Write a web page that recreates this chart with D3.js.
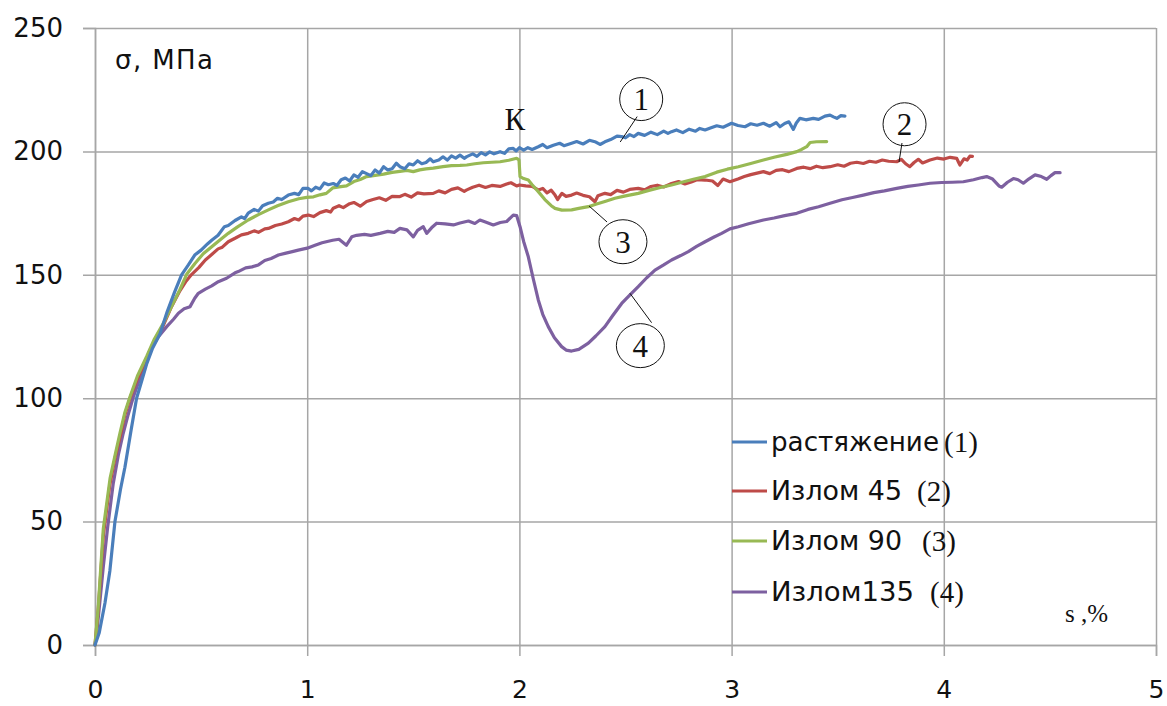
<!DOCTYPE html>
<html>
<head>
<meta charset="utf-8">
<script src="https://cdn.jsdelivr.net/npm/d3@7"></script>
<style>
  body { margin: 0; background: #fff; }
  svg { display: block; }
</style>
</head>
<body>
<svg id="chart" width="1167" height="706"></svg>
<script>
// Stress–strain curves: tension and bending at 45°, 90°, 135° (kink at point K)
const xTicks = [0, 1, 2, 3, 4, 5];
const yTicks = [0, 50, 100, 150, 200, 250];
const seriesNames = ["растяжение", "Излом 45", "Излом 90", "Излом135"];
const seriesTags = ["(1)", "(2)", "(3)", "(4)"];

// [s, %; σ, MPa]
const tension = [
  [0,0],[0.02,5],[0.047,17],[0.07,30],[0.094,50],[0.12,63],[0.141,72],[0.17,87],[0.196,100],
  [0.22,107],[0.244,114],[0.27,120],[0.306,126],[0.34,135],[0.375,143],[0.408,150],[0.44,154],
  [0.47,158],[0.5,160],[0.53,162.5],[0.55,164],[0.58,166],[0.61,169.5],[0.628,170],[0.66,172],
  [0.69,173.5],[0.705,172.8],[0.722,175],[0.75,176.5],[0.77,175.8],[0.79,178],[0.817,179],
  [0.84,179.5],[0.86,181],[0.88,180.5],[0.911,182.3],[0.94,183],[0.96,182.5],[0.98,185],
  [1.005,185],[1.02,184],[1.04,185.5],[1.06,184.8],[1.08,187.2],[1.1,186.5],[1.123,187],
  [1.14,186.2],[1.16,188.5],[1.18,189.2],[1.2,188],[1.22,190.5],[1.24,189.5],[1.26,191.8],
  [1.28,191],[1.3,190.2],[1.32,192.5],[1.34,191.2],[1.36,193.8],[1.38,192.5],[1.4,193],
  [1.42,195.2],[1.437,193.8],[1.46,193],[1.48,195],[1.5,194.5],[1.52,196.2],[1.54,195],
  [1.56,195.5],[1.58,197],[1.594,195.8],[1.62,196.5],[1.64,197.8],[1.66,196.5],[1.68,198.2],
  [1.7,197.3],[1.72,198.5],[1.74,197.2],[1.752,197.9],[1.78,199],[1.8,198],[1.82,199.5],
  [1.84,198.6],[1.86,199.8],[1.88,199],[1.909,199.9],[1.93,199.2],[1.95,201],[1.971,201.2],
  [1.985,200.2],[2.0,201.5],[2.02,200.5],[2.04,201.5],[2.06,200.8],[2.089,201.9],[2.11,202.8],
  [2.13,201.5],[2.16,202.5],[2.19,203.3],[2.21,202.3],[2.246,203.3],[2.27,204],[2.3,203],
  [2.33,204.5],[2.36,203.8],[2.38,202.8],[2.403,203.9],[2.43,204.8],[2.46,206.2],[2.482,206],
  [2.5,205.5],[2.52,206.8],[2.54,206],[2.56,207.3],[2.59,206.5],[2.62,207.8],[2.65,206.8],
  [2.68,208.2],[2.7,207.3],[2.717,208],[2.74,208.7],[2.77,207.6],[2.8,209],[2.83,208.2],
  [2.85,209.3],[2.875,208.7],[2.9,209.5],[2.93,210.4],[2.96,209.8],[3.0,211.4],[3.03,210.5],
  [3.063,210],[3.09,211.2],[3.12,210.6],[3.15,211.4],[3.18,210.2],[3.21,211.7],[3.228,210],
  [3.25,211.3],[3.27,212],[3.291,208.9],[3.305,211.5],[3.322,213.4],[3.35,212.8],[3.385,213.4],
  [3.41,213],[3.44,214.3],[3.464,214.7],[3.48,214],[3.496,213.4],[3.515,214.5],[3.534,214.3]
];

const bend45 = [
  [0,0],[0.015,14],[0.04,45],[0.07,65],[0.095,76],[0.12,85],[0.14,93],[0.165,100],[0.2,108],
  [0.244,116],[0.28,123],[0.322,129.5],[0.36,137],[0.4,143.5],[0.43,147.5],[0.456,150.2],
  [0.49,153],[0.52,156],[0.55,158.2],[0.58,160.5],[0.6,161.2],[0.628,163.4],[0.66,164.8],
  [0.69,166.2],[0.722,166.8],[0.75,167.8],[0.77,167.2],[0.8,168.6],[0.817,168.8],[0.85,170],
  [0.88,170.6],[0.911,171.5],[0.94,172.8],[0.96,172.2],[0.98,173.8],[1.005,174.2],[1.03,173.6],
  [1.06,175.2],[1.09,176],[1.11,175.4],[1.123,177],[1.15,178],[1.17,177.2],[1.2,178.8],
  [1.22,179.3],[1.25,177.8],[1.28,179.7],[1.31,180.5],[1.34,181.2],[1.37,180.2],[1.4,181.8],
  [1.437,181.7],[1.46,182.6],[1.49,181.5],[1.52,183.2],[1.55,182.8],[1.594,183],[1.62,184],
  [1.65,183.2],[1.68,184.6],[1.71,185.2],[1.74,183.8],[1.752,184.4],[1.78,185.5],[1.81,186.3],
  [1.84,185.4],[1.87,186.2],[1.909,185.8],[1.94,186.8],[1.96,187.3],[1.987,186],[2.0,186.4],
  [2.03,186],[2.06,185.8],[2.089,184.4],[2.11,185],[2.13,183.2],[2.15,184.3],[2.168,182.3],
  [2.18,180.5],[2.2,183],[2.22,181.8],[2.246,182.3],[2.27,183.1],[2.3,182.2],[2.33,181.6],
  [2.356,179.6],[2.37,182],[2.403,183],[2.43,182.5],[2.46,184.2],[2.49,183.5],[2.52,184.6],
  [2.56,185],[2.59,184.4],[2.62,185.8],[2.65,186.3],[2.68,185.6],[2.717,187],[2.75,187.8],
  [2.78,186.8],[2.81,187.6],[2.84,188.6],[2.875,188.4],[2.91,188],[2.935,186.2],[2.96,188.8],
  [2.992,187.7],[3.03,188.8],[3.06,189.8],[3.09,190.6],[3.12,191.2],[3.15,191.8],[3.18,191],
  [3.21,192.3],[3.24,192.6],[3.27,191.8],[3.307,193.1],[3.34,193.6],[3.37,193],[3.4,194],
  [3.43,193.4],[3.464,193.8],[3.5,194.6],[3.53,194],[3.56,195.2],[3.59,195.6],[3.621,195.1],
  [3.65,196],[3.68,195.6],[3.71,196.5],[3.74,196],[3.778,195.8],[3.8,196.8],[3.82,195],
  [3.84,193.8],[3.86,195.5],[3.88,196.8],[3.9,195.3],[3.935,196.5],[3.97,197.3],[4.0,196.9],
  [4.03,197.6],[4.061,197.2],[4.07,195.5],[4.076,194.5],[4.095,197],[4.11,196.5],[4.123,198.1],
  [4.135,198]
];

const bend90 = [
  [0,0],[0.015,15],[0.039,47],[0.071,67.5],[0.095,77],[0.118,86],[0.14,94],[0.165,100.6],
  [0.2,109],[0.244,117],[0.28,124],[0.322,130.3],[0.36,137],[0.4,144],[0.432,150.2],[0.47,154.5],
  [0.51,158.5],[0.55,161.4],[0.59,164.2],[0.628,166.8],[0.67,169.3],[0.722,172.2],[0.77,174.4],
  [0.817,176.3],[0.86,178],[0.911,179.6],[0.96,180.8],[0.998,181.4],[1.03,181.6],[1.06,182.4],
  [1.09,183],[1.12,185.2],[1.15,185.6],[1.185,186],[1.22,187.8],[1.25,188.6],[1.28,189.8],
  [1.32,190.3],[1.36,190.8],[1.4,191.5],[1.437,191.9],[1.47,192.3],[1.5,191.8],[1.53,192.5],
  [1.56,192.9],[1.594,193.2],[1.64,193.8],[1.68,194.2],[1.72,194.3],[1.752,194.5],[1.79,195],
  [1.83,195.4],[1.87,195.6],[1.909,195.8],[1.95,196.4],[1.987,197.2],[1.998,196.6],[2.003,189.8],
  [2.02,189],[2.042,188.4],[2.06,186.5],[2.089,183.7],[2.12,180.5],[2.15,178],[2.168,176.9],
  [2.2,176.2],[2.246,176.3],[2.28,176.9],[2.325,177.6],[2.36,178.6],[2.403,179.7],[2.45,181],
  [2.5,182],[2.56,183],[2.61,184.2],[2.66,185.3],[2.717,186.4],[2.77,187.6],[2.82,188.7],
  [2.875,189.8],[2.93,191.6],[2.98,192.8],[3.032,193.8],[3.09,195.1],[3.15,196.5],[3.2,197.6],
  [3.26,198.8],[3.307,199.9],[3.33,200.8],[3.354,201.9],[3.37,203.6],[3.4,203.9],[3.448,204]
];

const bend135 = [
  [0,0],[0.008,4.7],[0.02,15],[0.039,31.7],[0.06,48],[0.086,65.5],[0.11,77],[0.133,85.8],
  [0.155,93],[0.181,100.6],[0.22,110],[0.259,119.5],[0.3,125],[0.338,129],[0.37,132],
  [0.393,134.4],[0.42,136.2],[0.448,137.1],[0.47,140.5],[0.487,142.5],[0.52,144.2],[0.55,145.5],
  [0.581,147.2],[0.62,148.6],[0.66,150.8],[0.675,151.3],[0.71,152.8],[0.74,153.2],[0.77,154],
  [0.8,155.8],[0.83,156.6],[0.864,158],[0.9,158.8],[0.93,159.4],[0.958,160],[1.0,160.8],
  [1.037,162],[1.07,163],[1.12,164],[1.15,164.4],[1.185,162],[1.21,165.4],[1.233,166],
  [1.27,166.4],[1.3,166],[1.343,166.8],[1.38,167.6],[1.41,167.2],[1.437,168.8],[1.47,168.2],
  [1.5,165.4],[1.52,168],[1.547,169.5],[1.563,166.8],[1.59,169.4],[1.61,170.9],[1.65,170.6],
  [1.689,170.2],[1.72,171],[1.76,171.8],[1.79,170.8],[1.814,172.2],[1.84,171.4],[1.877,170.2],
  [1.91,171.2],[1.94,171.6],[1.971,174.2],[1.987,174],[2.003,169.5],[2.02,163.5],[2.042,157.3],
  [2.065,148.5],[2.089,139.8],[2.11,134],[2.136,129],[2.165,124.5],[2.199,120.9],[2.22,119.5],
  [2.246,119.1],[2.28,119.8],[2.325,122.3],[2.36,125.2],[2.403,129],[2.44,133.5],[2.482,138.4],
  [2.52,141.8],[2.56,145.2],[2.6,148.8],[2.639,151.9],[2.68,154],[2.717,156],[2.76,157.8],
  [2.796,159.4],[2.835,161.5],[2.875,163.4],[2.915,165.2],[2.953,166.8],[2.992,168.6],
  [3.032,169.5],[3.08,170.7],[3.15,172.2],[3.2,173],[3.25,174],[3.307,174.9],[3.36,176.5],
  [3.41,177.6],[3.464,179],[3.52,180.4],[3.57,181.3],[3.621,182.3],[3.67,183.3],[3.72,184],
  [3.778,185],[3.83,185.8],[3.88,186.4],[3.935,187.1],[3.99,187.4],[4.04,187.5],[4.092,187.7],
  [4.14,188.5],[4.18,189.4],[4.202,189.8],[4.23,188.8],[4.26,186],[4.273,185.5],[4.3,187.5],
  [4.328,189],[4.35,188.5],[4.375,187.1],[4.4,188.8],[4.43,190.5],[4.46,189.8],[4.485,188.7],
  [4.505,190.2],[4.524,191.4],[4.548,191.4]
];

// Circled curve numbers: centre [s, σ] and leader line from/to [s, σ]
const callouts = [
  { label: "1", at: [2.574, 221.2], from: [2.555, 214.1], to: [2.475, 203.8] },
  { label: "2", at: [3.815, 211.0], from: [3.803, 203.4], to: [3.789, 195.7] },
  { label: "3", at: [2.488, 163.4], from: [2.413, 171.4], to: [2.328, 177.9] },
  { label: "4", at: [2.570, 121.3], from: [2.623, 130.6], to: [2.521, 142.5] }
];

// ---------- drawing ----------
const W = 1167, H = 706;
const margin = { top: 28, right: 11, bottom: 61, left: 95 };
const colors = ["#4a7ebb", "#be4b48", "#98b954", "#7d60a0"];
const SANS = "'DejaVu Sans', 'Open Sans', sans-serif";
const SERIF = "'Liberation Serif', 'DejaVu Serif', serif";

const svg = d3.select("#chart");
const x = d3.scaleLinear().domain([0, 5]).range([margin.left, W - margin.right]);
const y = d3.scaleLinear().domain([0, 250]).range([H - margin.bottom, margin.top]);

const gridColor = "#a6a6a6";

// horizontal grid + y axis
const yAxis = svg.append("g")
  .attr("transform", `translate(${margin.left},0)`)
  .call(d3.axisLeft(y).tickValues(yTicks).tickSize(12).tickPadding(20).tickFormat(d3.format("d")));
yAxis.select(".domain").attr("stroke", gridColor).attr("stroke-width", 1.5);
yAxis.selectAll(".tick line").attr("stroke", gridColor).attr("stroke-width", 1.5)
  .attr("x2", -12).attr("x1", x(5) - margin.left);
yAxis.selectAll(".tick text").attr("font-family", SANS).attr("font-size", 26).attr("fill", "#111");

// vertical grid + x axis
const xAxis = svg.append("g")
  .attr("transform", `translate(0,${H - margin.bottom})`)
  .call(d3.axisBottom(x).tickValues(xTicks).tickSize(11).tickPadding(24).tickFormat(d3.format("d")));
xAxis.select(".domain").attr("stroke", gridColor).attr("stroke-width", 1.5);
xAxis.selectAll(".tick line").attr("stroke", gridColor).attr("stroke-width", 1.5)
  .attr("y1", y(250) - (H - margin.bottom)).attr("y2", 11);
xAxis.selectAll(".tick text").attr("font-family", SANS).attr("font-size", 25).attr("fill", "#111");

// curves
const line = d3.line().x(d => x(d[0])).y(d => y(d[1]));
const allSeries = [tension, bend45, bend90, bend135];
// purple first, blue last so blue sits on top near the origin
[3, 1, 2, 0].forEach(i => {
  svg.append("path")
    .datum(allSeries[i])
    .attr("fill", "none")
    .attr("stroke", colors[i])
    .attr("stroke-width", 3.2)
    .attr("stroke-linejoin", "round")
    .attr("stroke-linecap", "round")
    .attr("d", line);
});

// axis captions
svg.append("text").attr("x", 115).attr("y", 69)
  .attr("font-family", SANS).attr("font-size", 26).attr("fill", "#111")
  .attr("textLength", 98)
  .text("σ, МПа");
svg.append("text").attr("x", 1065).attr("y", 622)
  .attr("font-family", SERIF).attr("font-size", 25).attr("fill", "#111")
  .text("s ,%");

// kink point label
svg.append("text").attr("x", x(2) - 15).attr("y", y(200) - 21)
  .attr("font-family", SERIF).attr("font-size", 31).attr("fill", "#111")
  .text("К");

// callouts
const co = svg.append("g");
callouts.forEach(c => {
  const big = c.label === "3" || c.label === "4";
  co.append("line")
    .attr("x1", x(c.from[0])).attr("y1", y(c.from[1]))
    .attr("x2", x(c.to[0])).attr("y2", y(c.to[1]))
    .attr("stroke", "#111").attr("stroke-width", 1);
  co.append("ellipse")
    .attr("cx", x(c.at[0])).attr("cy", y(c.at[1]))
    .attr("rx", big ? 24 : 21.5).attr("ry", big ? 22 : 21.5)
    .attr("fill", "none").attr("stroke", "#111").attr("stroke-width", 1);
  co.append("text")
    .attr("x", x(c.at[0])).attr("y", y(c.at[1]) + 11)
    .attr("text-anchor", "middle")
    .attr("font-family", SERIF).attr("font-size", 31).attr("fill", "#111")
    .text(c.label);
});

// legend
const legendRows = [442, 491, 541, 592];
const legendTextWidth = [168, 131, 131, 143];
const tagX = [944, 917, 922, 930];
const lg = svg.append("g");
seriesNames.forEach((name, i) => {
  const cy = legendRows[i];
  lg.append("line").attr("x1", 732).attr("x2", 767).attr("y1", cy).attr("y2", cy)
    .attr("stroke", colors[i]).attr("stroke-width", 3);
  lg.append("text").attr("x", 771).attr("y", cy + 9)
    .attr("font-family", SANS).attr("font-size", 26).attr("fill", "#111")
    .attr("textLength", legendTextWidth[i]).attr("lengthAdjust", "spacingAndGlyphs")
    .text(name);
  lg.append("text").attr("x", tagX[i]).attr("y", cy + 10)
    .attr("font-family", SERIF).attr("font-size", 29).attr("fill", "#111")
    .text(seriesTags[i]);
});
</script>
</body>
</html>
